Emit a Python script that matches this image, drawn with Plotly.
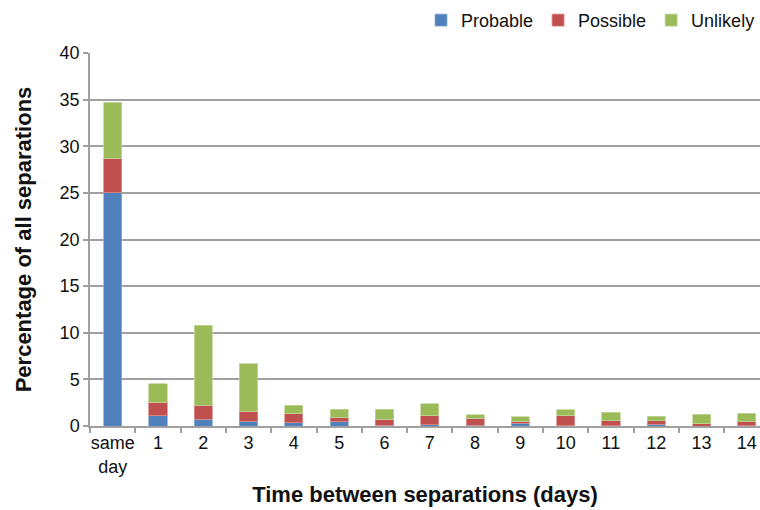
import plotly.graph_objects as go

categories = ["same<br>day", "1", "2", "3", "4", "5", "6", "7", "8", "9", "10", "11", "12", "13", "14"]
probable = [25.0, 1.1, 0.7, 0.5, 0.35, 0.45, 0.1, 0.15, 0.1, 0.3, 0.05, 0.05, 0.18, 0.0, 0.05]
possible = [3.7, 1.45, 1.5, 1.1, 0.95, 0.42, 0.65, 0.95, 0.72, 0.2, 1.05, 0.5, 0.4, 0.26, 0.45]
unlikely = [6.0, 2.0, 8.6, 5.1, 0.93, 0.95, 1.05, 1.3, 0.4, 0.48, 0.65, 0.93, 0.46, 0.99, 0.86]

names = ["Probable", "Possible", "Unlikely"]
colors = ["#4F81BD", "#C0504D", "#9BBB59"]
edges = ["#8FAFD8", "#DC8F8D", "#C3D79E"]

FONT = "Liberation Sans, Arial, Helvetica, sans-serif"

fig = go.Figure()
for name, vals, c, e in zip(names, [probable, possible, unlikely], colors, edges):
    fig.add_trace(go.Bar(
        x=categories, y=vals, name=name,
        marker=dict(color=c, line=dict(color=e, width=0.8)),
        width=0.4,
    ))

fig.update_layout(
    barmode="stack",
    width=760, height=510,
    margin=dict(l=90, r=0, t=53, b=84, autoexpand=False),
    paper_bgcolor="white", plot_bgcolor="white",
    font=dict(family=FONT, size=18, color="#111111"),
    showlegend=True,
    legend=dict(orientation="h", x=1.0, xanchor="right", xref="container",
                y=0.96, yanchor="middle", yref="container",
                font=dict(size=18), itemwidth=30, traceorder="normal",
                tracegroupgap=0),
    xaxis=dict(
        type="category",
        range=[-0.5, 14.29],
        automargin=False,
        showline=True, linecolor="#A0A0A0", linewidth=1.5,
        ticks="outside", tickson="boundaries", ticklen=5, tickcolor="#A0A0A0", tickwidth=1.5,
        showgrid=False,
        tickangle=0,
        tickfont=dict(size=18),
        title=dict(text="<b>Time between separations (days)</b>", font=dict(size=22), standoff=11),
    ),
    yaxis=dict(
        range=[0, 40], dtick=5,
        automargin=False,
        showline=True, linecolor="#A0A0A0", linewidth=1.5,
        showgrid=True, gridcolor="#A0A0A0", gridwidth=1.5,
        ticks="outside", ticklen=5, tickcolor="#A0A0A0", tickwidth=1.5,
        tickfont=dict(size=18),
        zeroline=False,
        title=dict(text="<b>Percentage of all separations</b>", font=dict(size=22), standoff=22),
    ),
)

fig.write_html(
    "out.html",
    config={"displayModeBar": False},
    post_script="document.body.style.margin='0';document.body.style.overflow='hidden';",
)
